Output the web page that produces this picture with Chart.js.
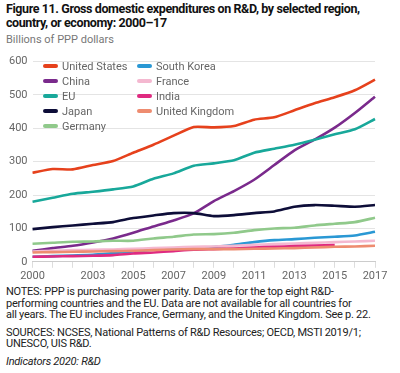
<!DOCTYPE html>
<html lang="en">
<head>
<meta charset="UTF-8">
<title>Gross domestic expenditures on R&amp;D</title>
<script src="https://cdn.jsdelivr.net/npm/chart.js"></script>
<style>
    body { margin: 0; width: 400px; height: 373px; background: #fff; font-family: Roboto, sans-serif; position: relative; overflow: hidden; }
    .title { position: absolute; left: 6px; top: 2px; font-size: 12.5px; font-weight: bold; line-height: 14px; color: #111; letter-spacing: -0.4px; }
    .units { position: absolute; left: 6px; top: 33px; font-size: 11px; color: #777; }
    #box { position: absolute; left: 0; top: 50px; width: 400px; height: 235px; }
    .legend { position: absolute; left: 43px; top: 59px; font-size: 11px; color: #666; }
    .legend .col { position: absolute; top: 0; }
    .legend .item { height: 15px; line-height: 15px; white-space: nowrap; }
    .legend .sw { display: inline-block; width: 15px; height: 4px; border-radius: 2px; vertical-align: middle; margin-right: 4px; position: relative; top: -1px; }
    .notes { position: absolute; left: 6px; top: 286px; font-size: 11px; line-height: 11.5px; color: #222; letter-spacing: -0.25px; }
    .notes p { margin: 0 0 6px 0; }
</style>
</head>
<body>

<div class="title">Figure 11. Gross domestic expenditures on R&amp;D, by selected region,<br>country, or economy: 2000–17</div>
<div class="units">Billions of PPP dollars</div>
<div id="box"><canvas id="rdChart"></canvas></div>
<div class="legend" id="legend"></div>
<div class="notes">
    <p>NOTES: PPP is purchasing power parity. Data are for the top eight R&amp;D-<br>performing countries and the EU. Data are not available for all countries for<br>all years. The EU includes France, Germany, and the United Kingdom. See p. 22.</p>
    <p>SOURCES: NCSES, National Patterns of R&amp;D Resources; OECD, MSTI 2019/1;<br>UNESCO, UIS R&amp;D.</p>
    <p><i>Indicators 2020: R&amp;D</i></p>
</div>

<script>
    var years = [2000, 2001, 2002, 2003, 2004, 2005, 2006, 2007, 2008, 2009, 2010, 2011, 2012, 2013, 2014, 2015, 2016, 2017];

    var unitedStates = [267, 278, 277, 290, 302, 327, 351, 378, 404, 403, 407, 426, 433, 454, 475, 493, 514, 546];
    var china = [33, 41, 48, 58, 70, 87, 106, 124, 145, 182, 212, 246, 290, 334, 366, 402, 446, 495];
    var eu = [180, 192, 204, 210, 217, 226, 249, 265, 288, 295, 304, 327, 339, 351, 366, 382, 397, 428];
    var japan = [98, 104, 109, 114, 119, 131, 139, 146, 146, 137, 140, 146, 151, 165, 170, 168, 165, 170];
    var germany = [54, 57, 60, 61, 63, 63, 70, 75, 82, 83, 87, 95, 100, 102, 109, 114, 119, 132];
    var southKorea = [15, 17, 19, 21, 26, 31, 36, 40, 41, 44, 51, 59, 65, 68, 72, 75, 79, 90];
    var france = [31, 33, 35, 36, 37, 39, 41, 43, 45, 46, 48, 51, 53, 55, 57, 59, 61, 63];
    var india = [15, 16, 17, 18, 20, 25, 28, 32, 36, 38, 40, 43, 45, 47, 49, 50, null, null];
    var unitedKingdom = [28, 29, 30, 31, 32, 33, 35, 37, 38, 38, 38, 39, 40, 41, 43, 45, 46, 48];

    var yTicks = [0, 100, 200, 300, 400, 500, 600];
    var xLabelYears = [2000, 2003, 2005, 2007, 2009, 2011, 2013, 2015, 2017];

    var series = [
        { label: 'United States', data: unitedStates, color: '#e6411c' },
        { label: 'China', data: china, color: '#7a2a8c' },
        { label: 'EU', data: eu, color: '#18a89a' },
        { label: 'Japan', data: japan, color: '#0d0d38' },
        { label: 'Germany', data: germany, color: '#90c98b' },
        { label: 'South Korea', data: southKorea, color: '#2a98d4' },
        { label: 'France', data: france, color: '#f4b8d0' },
        { label: 'India', data: india, color: '#df2a80' },
        { label: 'United Kingdom', data: unitedKingdom, color: '#ee8c70' }
    ];

    // html legend in two columns like the original
    var legendEl = document.getElementById('legend');
    var cols = [series.slice(0, 5), series.slice(5)];
    cols.forEach(function(list, c) {
        var col = document.createElement('div');
        col.className = 'col';
        col.style.left = (c * 94) + 'px';
        list.forEach(function(s) {
            var item = document.createElement('div');
            item.className = 'item';
            item.innerHTML = '<span class="sw" style="background:' + s.color + '"></span>' + s.label;
            col.appendChild(item);
        });
        legendEl.appendChild(col);
    });

    var ctx = document.getElementById('rdChart').getContext('2d');
    var rdChart = new Chart(ctx, {
        type: 'line',
        data: {
            labels: years,
            datasets: series.slice().reverse().map(function(s) {
                return {
                    label: s.label,
                    data: s.data,
                    borderColor: s.color,
                    backgroundColor: s.color,
                    borderWidth: 2.6,
                    pointRadius: 0,
                    tension: 0.2,
                    spanGaps: false
                };
            })
        },
        options: {
            responsive: true,
            maintainAspectRatio: false,
            animation: false,
            layout: { padding: { top: 0, right: 25, left: 4 } },
            plugins: {
                legend: { display: false },
                tooltip: { enabled: false }
            },
            scales: {
                x: {
                    grid: { display: true, drawOnChartArea: false, drawTicks: true, tickLength: 6, color: '#ddd' },
                    border: { color: '#ccc' },
                    ticks: {
                        color: '#666',
                        font: { family: 'Roboto', size: 11 },
                        maxRotation: 0,
                        autoSkip: false,
                        padding: 2,
                        callback: function(v, i) {
                            var y = years[i];
                            return xLabelYears.indexOf(y) >= 0 ? String(y) : '';
                        }
                    }
                },
                y: {
                    min: 0,
                    max: 600,
                    afterBuildTicks: function(axis) {
                        axis.ticks = yTicks.map(function(v) { return { value: v }; });
                    },
                    grid: { color: '#e4e4e4', drawTicks: false },
                    border: { display: false },
                    ticks: {
                        color: '#666',
                        font: { family: 'Roboto', size: 11 },
                        padding: 5
                    }
                }
            }
        }
    });
</script>

</body>
</html>
